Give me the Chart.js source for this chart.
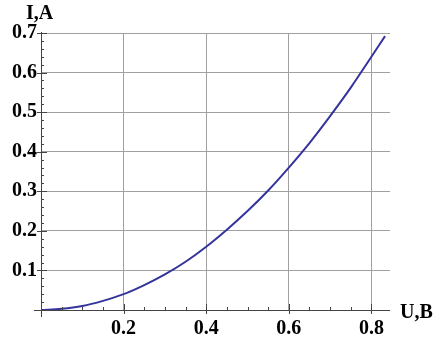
<!DOCTYPE html>
<html>
<head>
<meta charset="utf-8">
<script src="https://cdn.jsdelivr.net/npm/chart.js@4/dist/chart.umd.min.js"></script>
<style>
    html, body { margin: 0; padding: 0; background: #fff; }
    #wrap { width: 440px; height: 344px; position: relative; }
</style>
</head>
<body>
<div id="wrap"><canvas id="ivChart"></canvas></div>
<script>
// I-V curve
const voltage = [0, 0.05, 0.1, 0.15, 0.2, 0.25, 0.3, 0.35, 0.4, 0.45, 0.5, 0.55, 0.6, 0.65, 0.7, 0.75, 0.8, 0.833];
const current = [0, 0.003, 0.01, 0.023, 0.04, 0.063, 0.09, 0.122, 0.16, 0.203, 0.25, 0.302, 0.36, 0.422, 0.49, 0.562, 0.64, 0.692];
const xTickLabels = ['0.2', '0.4', '0.6', '0.8'];
const yTickLabels = ['0.1', '0.2', '0.3', '0.4', '0.5', '0.6', '0.7'];

const FONT = '"Liberation Serif", "Times New Roman", serif';
const axisColor = '#444';
const gridColor = '#a0a0a0';

// axes with inward minor ticks and the two axis names
const axesPlugin = {
    id: 'axes',
    afterDatasetsDraw(chart) {
        const ctx = chart.ctx;
        const x = chart.scales.x, y = chart.scales.y;
        const x0 = x.getPixelForValue(0), y0 = y.getPixelForValue(0);
        ctx.save();
        ctx.strokeStyle = axisColor;
        ctx.lineWidth = 1;
        ctx.beginPath();
        ctx.moveTo(x0 - 7, y0 + 0.5);
        ctx.lineTo(x.right, y0 + 0.5);
        ctx.moveTo(x0 + 0.5, y0 + 7);
        ctx.lineTo(x0 + 0.5, y.top - 1);
        for (let v = 0.05; v < 0.845; v += 0.05) {
            const px = Math.round(x.getPixelForValue(v)) + 0.5;
            const major = Math.abs(v / 0.2 - Math.round(v / 0.2)) < 1e-6;
            ctx.moveTo(px, y0 + (major ? 4 : 0));
            ctx.lineTo(px, y0 - (major ? 6 : 3));
        }
        for (let v = 0.02; v < 0.705; v += 0.02) {
            const py = Math.round(y.getPixelForValue(v)) + 0.5;
            const major = Math.abs(v / 0.1 - Math.round(v / 0.1)) < 1e-6;
            ctx.moveTo(x0 - (major ? 4 : 0), py);
            ctx.lineTo(x0 + (major ? 6 : 3), py);
        }
        ctx.stroke();
        ctx.fillStyle = '#000';
        ctx.font = 'bold 20px ' + FONT;
        ctx.textBaseline = 'middle';
        ctx.textAlign = 'left';
        ctx.fillText('I,A', 26, 14);
        ctx.fillText('U,B', 400, 313);
        ctx.restore();
    }
};

new Chart(document.getElementById('ivChart').getContext('2d'), {
    type: 'scatter',
    data: {
        datasets: [{
            data: voltage.map((u, i) => ({ x: u, y: current[i] })),
            showLine: true,
            borderColor: '#34349c',
            borderWidth: 2,
            pointRadius: 0,
            cubicInterpolationMode: 'monotone',
            fill: false
        }]
    },
    options: {
        responsive: true,
        maintainAspectRatio: false,
        animation: false,
        layout: { padding: { top: 33, right: 50, left: 0, bottom: 0 } },
        plugins: { legend: { display: false }, tooltip: { enabled: false } },
        scales: {
            x: {
                type: 'linear',
                min: 0,
                max: 0.845,
                afterFit(scale) { scale.height = 34; },
                border: { display: false },
                grid: { color: ctx => ctx.tick && ctx.tick.value === 0 ? 'transparent' : gridColor, drawTicks: false },
                ticks: {
                    stepSize: 0.2,
                    includeBounds: false,
                    padding: 7,
                    color: '#000',
                    font: { family: FONT, size: 20, weight: 'bold' },
                    callback: v => xTickLabels[Math.round(v / 0.2) - 1] || ''
                }
            },
            y: {
                min: 0,
                max: 0.7,
                afterFit(scale) { scale.width = 41; },
                border: { display: false },
                grid: { color: ctx => ctx.tick && ctx.tick.value === 0 ? 'transparent' : gridColor, drawTicks: false },
                ticks: {
                    stepSize: 0.1,
                    padding: 4,
                    color: '#000',
                    font: { family: FONT, size: 20, weight: 'bold' },
                    callback: v => yTickLabels[Math.round(v / 0.1) - 1] || ''
                }
            }
        }
    },
    plugins: [axesPlugin]
});
</script>
</body>
</html>
